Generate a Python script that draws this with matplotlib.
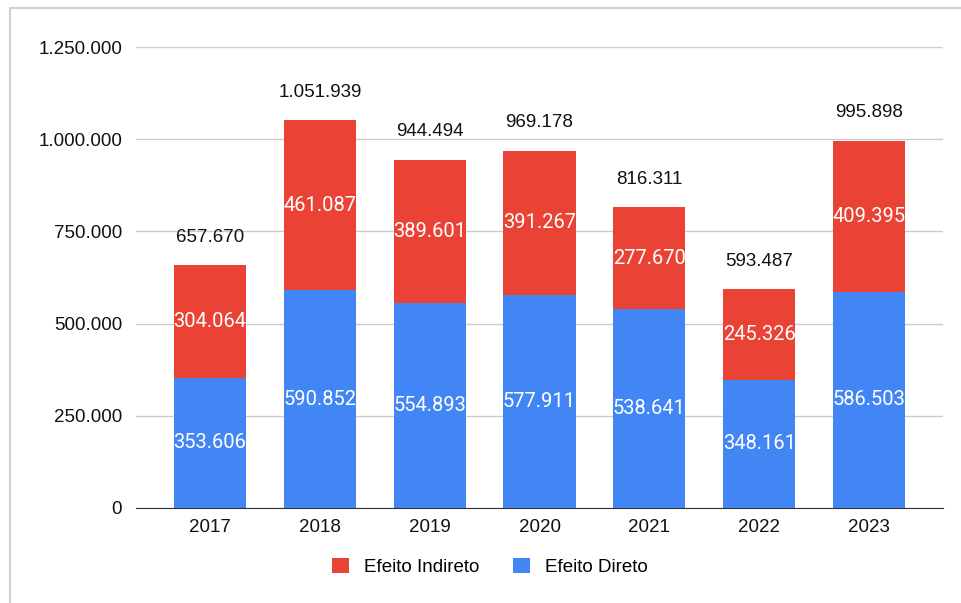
import matplotlib.pyplot as plt
from matplotlib.patches import Rectangle

plt.rcParams['font.family'] = ['Liberation Sans', 'DejaVu Sans']

anos = ['2017', '2018', '2019', '2020', '2021', '2022', '2023']
efeito_direto = [353606, 590852, 554893, 577911, 538641, 348161, 586503]
efeito_indireto = [304064, 461087, 389601, 391267, 277670, 245326, 409395]
totais = [657670, 1051939, 944494, 969178, 816311, 593487, 995898]

AZUL = '#4285F4'
VERMELHO = '#EA4335'


def fmt_br(v):
    return f'{v:,.0f}'.replace(',', '.')


fig = plt.figure(figsize=(9.61, 6.03), dpi=100)
# moldura cinza clara ao redor do gráfico
fig.patches.append(Rectangle((10 / 961, -0.01), 1.0, 1 - 8 / 603 + 0.01,
                             transform=fig.transFigure, fill=False,
                             edgecolor='#d0d0d0', linewidth=1.5))

ax = fig.add_axes([136 / 961, 1 - 508 / 603, (943 - 136) / 961, (508 - 47) / 603])
x = range(len(anos))
largura = 0.656
b1 = ax.bar(x, efeito_direto, width=largura, color=AZUL, label='Efeito Direto', zorder=2)
b2 = ax.bar(x, efeito_indireto, width=largura, bottom=efeito_direto, color=VERMELHO,
            label='Efeito Indireto', zorder=2)

for i in x:
    ax.text(i, efeito_direto[i] / 2, fmt_br(efeito_direto[i]), ha='center', va='center',
            color='white', fontsize=14.5, family=['Roboto', 'DejaVu Sans'], zorder=3)
    ax.text(i, efeito_direto[i] + efeito_indireto[i] / 2, fmt_br(efeito_indireto[i]),
            ha='center', va='center', color='white', fontsize=14.5,
            family=['Roboto', 'DejaVu Sans'], zorder=3)
    ax.annotate(fmt_br(totais[i]), (i, totais[i]), xytext=(0, 14), textcoords='offset points',
                ha='center', va='bottom', fontsize=13.5, color='#111111')

ax.set_xlim(-0.674, 6.674)
ax.set_ylim(0, 1250000)
ax.set_yticks([0, 250000, 500000, 750000, 1000000, 1250000])
ax.set_yticklabels([fmt_br(v) for v in ax.get_yticks()])
ax.set_xticks(list(x))
ax.set_xticklabels(anos)
ax.tick_params(axis='both', length=0, labelsize=13.5, colors='#111111')
ax.tick_params(axis='y', pad=10)
ax.tick_params(axis='x', pad=8)
ax.grid(axis='y', color='#cccccc', linewidth=1, zorder=0)
for s in ['top', 'right', 'left']:
    ax.spines[s].set_visible(False)
ax.spines['bottom'].set_color('#333333')
ax.spines['bottom'].set_zorder(4)

handles = [b2, b1]
fig.legend(handles, ['Efeito Indireto', 'Efeito Direto'], loc='center',
           bbox_to_anchor=(490 / 961, 1 - 567 / 603), ncol=2, frameon=False,
           fontsize=13.5, handlelength=0.9, handleheight=0.9, columnspacing=1.8,
           handletextpad=0.8)

fig.savefig('out.png', dpi=100)
